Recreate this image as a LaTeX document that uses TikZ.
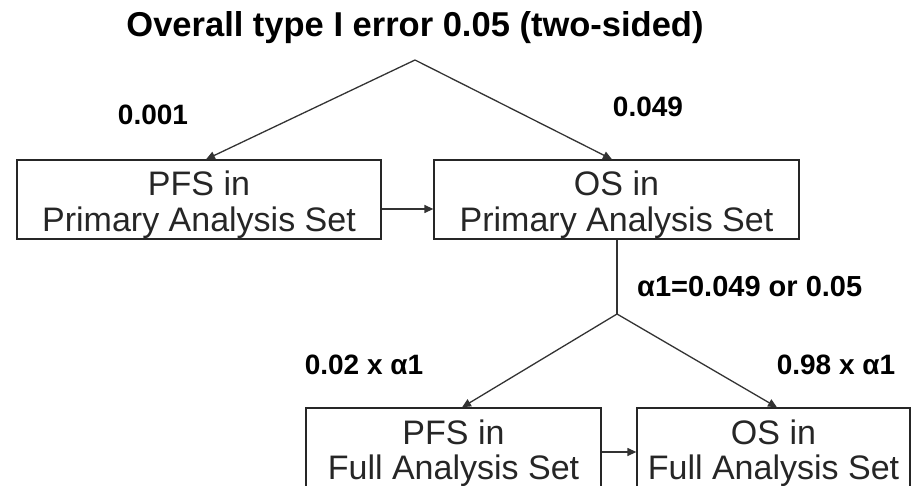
\documentclass[tikz,border=0pt]{standalone}
\usepackage{fontspec}
\setmainfont{Liberation Sans}
\usetikzlibrary{arrows.meta}
\newcommand{\boxtext}[2]{\raisebox{-7pt}[\height][\depth]{\begin{tabular}{@{}c@{}}#1\\#2\end{tabular}}}
\begin{document}
\begin{tikzpicture}[x=1pt,y=-1pt,
  boxnode/.style={draw=black!85,line width=1.3pt,minimum height=79pt,inner sep=0pt,align=center,font=\fontsize{34}{35}\selectfont,text=black!85},
  lbl/.style={font=\bfseries\fontsize{28}{32}\selectfont,inner sep=0pt},
  conn/.style={draw=black!80,line width=1.3pt},
  arr/.style={conn,-{Triangle[length=9pt,width=8pt]}}]
\useasboundingbox (0,0) rectangle (912,486);
\node[lbl,font=\bfseries\fontsize{34.5}{36}\selectfont] (title) at (415,28) {Overall type I error 0.05 (two-sided)};
\coordinate (apex) at (415,60);
\node[boxnode,minimum width=364pt] (pfspas) at (199,199.5) {\boxtext{PFS in}{Primary Analysis Set}};
\node[boxnode,minimum width=365pt] (ospas) at (616.5,199.5) {\boxtext{OS in}{Primary Analysis Set}};
\node[boxnode,minimum width=295pt] (pfsfas) at (453.5,447.5) {\boxtext{PFS in}{Full Analysis Set}};
\node[boxnode,minimum width=273pt] (osfas) at (773.5,447.5) {\boxtext{OS in}{Full Analysis Set}};
\node[lbl] (l001) at (153,115) {0.001};
\node[lbl] (l049) at (648,107) {0.049};
\node[lbl,anchor=west,font=\bfseries\fontsize{29}{32}\selectfont] (la1) at (637,287) {α1=0.049 or 0.05};
\node[lbl] (l002) at (364,365) {0.02 x α1};
\node[lbl] (l098) at (836,365) {0.98 x α1};
\coordinate (split) at (617,314);
\draw[arr] (apex) -- (pfspas.north -| 206,0);
\draw[arr] (apex) -- (ospas.north -| 612,0);
\draw[arr] ([yshift=-9.5pt]pfspas.east) -- ([yshift=-9.5pt]ospas.west);
\draw[conn] (ospas.south -| split) -- (split);
\draw[arr] (split) -- (pfsfas.north -| 462,0);
\draw[arr] (split) -- (osfas.north -| 777,0);
\draw[arr] ([yshift=-4.5pt]pfsfas.east) -- ([yshift=-4.5pt]osfas.west);
\end{tikzpicture}
\end{document}
